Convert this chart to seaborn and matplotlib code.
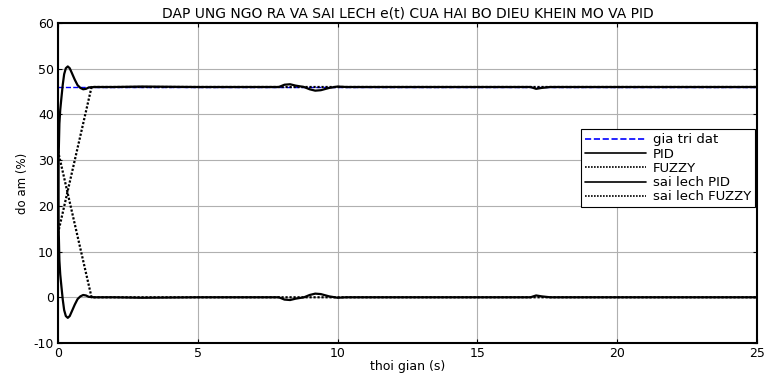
import matplotlib
matplotlib.use("Agg")
import matplotlib.pyplot as plt
import seaborn as sns
import pandas as pd

# ---- data ----
t_set = [0, 25]
y_set = [46, 46]

t_pid = [0, 0.02, 0.05, 0.08, 0.12, 0.17, 0.22, 0.28, 0.35, 0.42, 0.5, 0.6, 0.7,
         0.8, 0.9, 1.0, 1.1, 1.3, 1.6, 2.0, 3.0, 5.0, 7.0, 7.9, 8.1, 8.3, 8.5,
         8.8, 9.0, 9.2, 9.4, 9.7, 10.0, 10.3, 12.0, 16.9, 17.1, 17.3, 17.6, 20.0, 25.0]
y_pid = [14, 30, 38, 41, 43.5, 46.5, 48.8, 50.1, 50.5, 50.1, 49.0, 47.6, 46.4,
         45.8, 45.5, 45.6, 45.9, 46.0, 46.0, 46.0, 46.1, 46.0, 46.0, 46.0, 46.5, 46.6, 46.3,
         46.0, 45.5, 45.2, 45.3, 45.8, 46.1, 46.0, 46.0, 46.0, 45.6, 45.8, 46.0, 46.0, 46.0]
e_pid = [32, 16, 8, 5, 2.5, -0.5, -2.8, -4.1, -4.5, -4.1, -3.0, -1.6, -0.4,
         0.2, 0.5, 0.4, 0.1, 0.0, 0.0, 0.0, -0.1, 0.0, 0.0, 0.0, -0.5, -0.6, -0.3,
         0.0, 0.5, 0.8, 0.7, 0.2, -0.1, 0.0, 0.0, 0.0, 0.4, 0.2, 0.0, 0.0, 0.0]

t_fz = [0, 1.2, 1.5, 3, 8, 10, 25]
y_fz = [14, 46, 46, 46, 46, 46, 46]
e_fz = [32, 0, 0, 0, 0, 0, 0]

title = "DAP UNG NGO RA VA SAI LECH e(t) CUA HAI BO DIEU KHEIN MO VA PID"
xlabel = "thoi gian (s)"
ylabel = "do am (%)"
labels = ["gia tri dat", "PID", "FUZZY", "sai lech PID", "sai lech FUZZY"]

# ---- plot ----
sns.set_style("white")
plt.rcParams['font.family'] = ['DejaVu Sans']
plt.rcParams['axes.unicode_minus'] = False
plt.rcParams['text.color'] = 'black'
plt.rcParams['axes.labelcolor'] = 'black'

fig = plt.figure(figsize=(7.66, 3.75), dpi=100)
ax = fig.add_axes([58/766, 32/375, 699/766, 320/375])

dots = (0, (1, 0.8))
sns.lineplot(x=t_set, y=y_set, ax=ax, color='blue', linestyle='--', linewidth=1.0,
             label=labels[0], estimator=None)
sns.lineplot(x=t_pid, y=y_pid, ax=ax, color='black', linestyle='-', linewidth=1.6,
             label=labels[1], estimator=None)
sns.lineplot(x=t_fz, y=y_fz, ax=ax, color='black', linestyle=dots, linewidth=1.6,
             label=labels[2], estimator=None)
sns.lineplot(x=t_pid, y=e_pid, ax=ax, color='black', linestyle='-', linewidth=1.6,
             label=labels[3], estimator=None)
sns.lineplot(x=t_fz, y=e_fz, ax=ax, color='black', linestyle=dots, linewidth=1.6,
             label=labels[4], estimator=None)

ax.set_xlim(0, 25)
ax.set_ylim(-10, 60)
ax.set_xticks([0, 5, 10, 15, 20, 25])
ax.set_yticks([-10, 0, 10, 20, 30, 40, 50, 60])
ax.grid(True, color='#b0b0b0', linewidth=0.8)
ax.tick_params(direction='in', length=3, labelsize=9, colors='black', pad=3,
               top=True, right=True, bottom=True, left=True)
for s in ax.spines.values():
    s.set_color('black')
    s.set_linewidth(1.5)

ax.set_title(title, fontsize=10, pad=4, color='black')
ax.set_xlabel(xlabel, fontsize=9, labelpad=0)
ax.set_ylabel(ylabel, fontsize=8.5, labelpad=3)

leg = ax.legend(loc='upper right', bbox_to_anchor=(0.997, 0.668), fontsize=9.5,
                frameon=True, fancybox=False, framealpha=1, edgecolor='black',
                borderpad=0.3, labelspacing=0.1, handlelength=4.6, handletextpad=0.5,
                borderaxespad=0)
leg.get_frame().set_linewidth(0.8)
for line in leg.get_lines():
    line.set_linewidth(1.2)
for txt in leg.get_texts():
    txt.set_color('black')

fig.savefig("out.png", dpi=100)
